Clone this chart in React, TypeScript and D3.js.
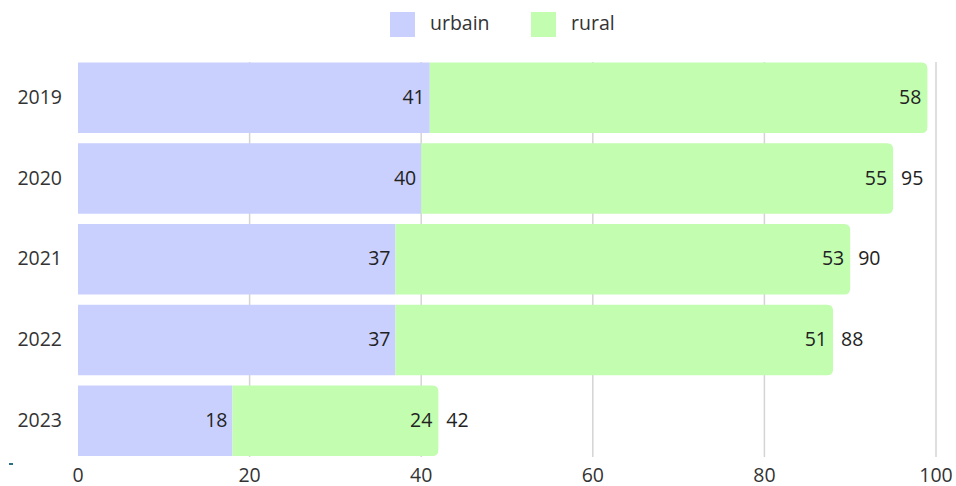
import React, { useRef, useEffect } from "react";
import { select, scaleLinear, scaleBand } from "d3";

const years = ["2019", "2020", "2021", "2022", "2023"];
const urbain = [41, 40, 37, 37, 18];
const rural = [58, 55, 53, 51, 24];
const xTicks = [0, 20, 40, 60, 80, 100];

const width = 956;
const height = 486;
const font = "'Open Sans', 'Noto Sans', sans-serif";
const fs = 19.5;

const App: React.FC = () => {
  const svgRef = useRef(null);

  useEffect(() => {
    const svg = select(svgRef.current);
    svg.selectAll("*").remove();

    const x = scaleLinear().domain([0, 100]).range([78, 936]);
    const y = scaleBand().domain(years).range([62.5, 456]).paddingInner(0.127);
    const bw = y.bandwidth();

    // grid
    svg
      .append("g")
      .selectAll("line")
      .data(xTicks.slice(1))
      .join("line")
      .attr("x1", (d) => x(d))
      .attr("x2", (d) => x(d))
      .attr("y1", 62)
      .attr("y2", 457)
      .attr("stroke", "#d4d4d4")
      .attr("stroke-width", 1.5);

    svg
      .append("g")
      .selectAll("text")
      .data(xTicks)
      .join("text")
      .attr("x", (d) => x(d))
      .attr("y", 477)
      .attr("text-anchor", "middle")
      .attr("dominant-baseline", "middle")
      .attr("font-family", font)
      .attr("font-size", fs)
      .attr("fill", "#333")
      .text((d) => d);

    svg
      .append("g")
      .selectAll("text")
      .data(years)
      .join("text")
      .attr("x", 62)
      .attr("y", (d) => y(d)! + bw / 2 + 1)
      .attr("text-anchor", "end")
      .attr("dominant-baseline", "middle")
      .attr("font-family", font)
      .attr("font-size", fs)
      .attr("fill", "#333")
      .text((d) => d);

    const rows = years.map((yr, i) => ({ yr, u: urbain[i], r: rural[i] }));

    svg
      .append("g")
      .selectAll("rect")
      .data(rows)
      .join("rect")
      .attr("x", x(0))
      .attr("y", (d) => y(d.yr)!)
      .attr("width", (d) => x(d.u) - x(0))
      .attr("height", bw)
      .attr("fill", "#c9d0fd");

    const rad = 6;
    svg
      .append("g")
      .selectAll("path")
      .data(rows)
      .join("path")
      .attr("d", (d) => {
        const x0 = x(d.u);
        const x1 = x(d.u + d.r);
        const y0 = y(d.yr)!;
        const y1 = y0 + bw;
        return `M${x0},${y0}H${x1 - rad}Q${x1},${y0} ${x1},${y0 + rad}V${y1 - rad}Q${x1},${y1} ${x1 - rad},${y1}H${x0}Z`;
      })
      .attr("fill", "#c2fdb0");

    const labels = svg
      .append("g")
      .attr("font-family", font)
      .attr("font-size", fs)
      .attr("fill", "#222")
      .attr("dominant-baseline", "middle");

    rows.forEach((d) => {
      const cy = y(d.yr)! + bw / 2 + 1;
      labels
        .append("text")
        .attr("x", x(d.u) - 5)
        .attr("y", cy)
        .attr("text-anchor", "end")
        .text(d.u);
      labels
        .append("text")
        .attr("x", x(d.u + d.r) - 6)
        .attr("y", cy)
        .attr("text-anchor", "end")
        .text(d.r);
      const total = d.u + d.r;
      if (x(total) + 30 < width) {
        labels
          .append("text")
          .attr("x", x(total) + 8)
          .attr("y", cy)
          .attr("text-anchor", "start")
          .text(total);
      }
    });

    // legend
    const legend = [
      { name: "urbain", color: "#c9d0fd", x: 390 },
      { name: "rural", color: "#c2fdb0", x: 531 },
    ];
    const lg = svg.append("g");
    legend.forEach((l) => {
      lg.append("rect")
        .attr("x", l.x)
        .attr("y", 12)
        .attr("width", 25)
        .attr("height", 25)
        .attr("fill", l.color);
      lg.append("text")
        .attr("x", l.x + 40)
        .attr("y", 25)
        .attr("dominant-baseline", "middle")
        .attr("font-family", font)
        .attr("font-size", fs)
        .attr("fill", "#333")
        .text(l.name);
    });

    svg
      .append("rect")
      .attr("x", 9)
      .attr("y", 463)
      .attr("width", 4)
      .attr("height", 2)
      .attr("fill", "#2a6f85");
  }, []);

  return (
    <svg
      ref={svgRef}
      width={width}
      height={height}
      style={{ position: "absolute", left: 0, top: 0, background: "#fff" }}
    ></svg>
  );
};

export default App;
